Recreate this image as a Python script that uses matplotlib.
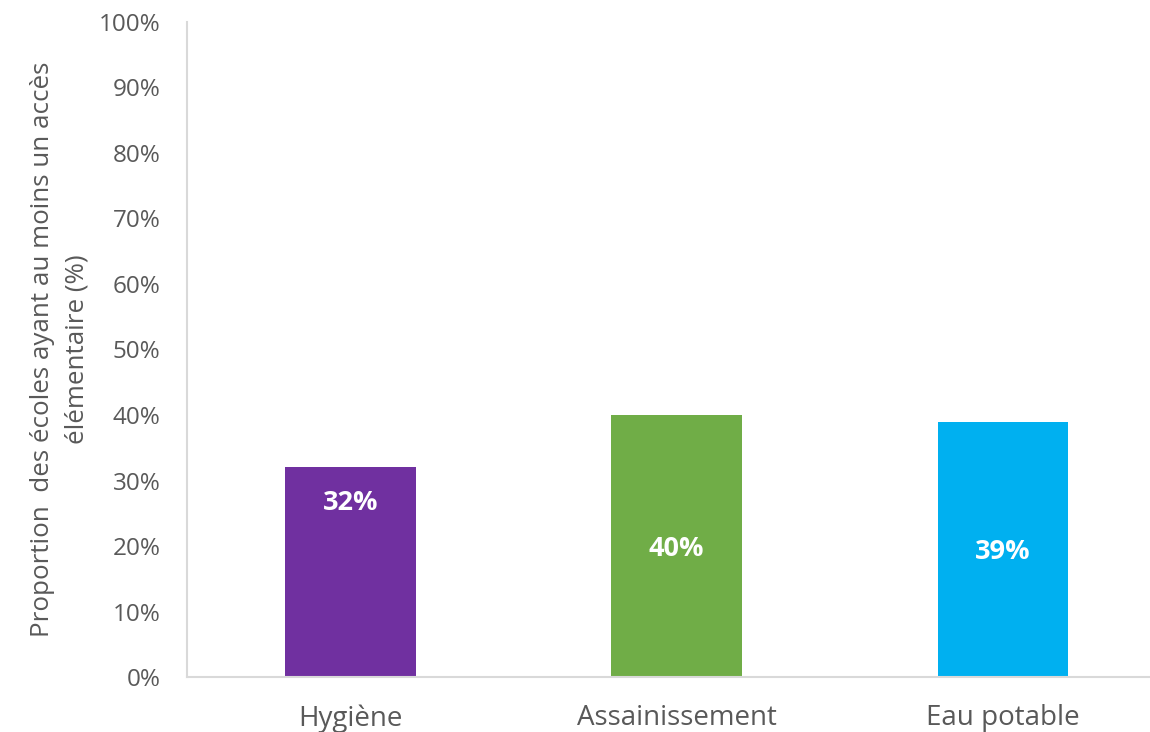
import matplotlib
matplotlib.use("Agg")
import matplotlib.pyplot as plt
from matplotlib.ticker import PercentFormatter

plt.rcParams['font.family'] = ['Open Sans', 'DejaVu Sans']

categories = ['Hygiène', 'Assainissement', 'Eau potable']
values = [32, 40, 39]
bar_colors = ['#7030A0', '#70AD47', '#00B0F0']
label_pos = ['inside_end', 'center', 'center']  # comme dans Excel

fig = plt.figure(figsize=(11.5, 7.32), dpi=100)
ax = fig.add_axes([0.1626, 0.0751, 0.8374, 0.8949])

x = range(len(categories))
bars = ax.bar(x, values, width=0.4, color=bar_colors)

for b, v, pos in zip(bars, values, label_pos):
    y = v - 5 if pos == 'inside_end' else v / 2
    ax.text(b.get_x() + b.get_width() / 2, y, f'{v}%', ha='center', va='center_baseline',
            color='white', fontsize=19.5, fontweight='bold')

ax.set_ylim(0, 100)
ax.set_xlim(-0.5, 2.45)
ax.set_yticks(range(0, 101, 10))
ax.yaxis.set_major_formatter(PercentFormatter(decimals=0))
ax.set_xticks(list(x))
ax.set_xticklabels(categories)

ax.tick_params(axis='y', length=0, pad=19, labelsize=17.5, labelcolor='#595959')
ax.tick_params(axis='x', length=0, pad=19.5, labelsize=20, labelcolor='#595959')

for s in ['top', 'right']:
    ax.spines[s].set_visible(False)
for s in ['left', 'bottom']:
    ax.spines[s].set_color('#D9D9D9')
    ax.spines[s].set_linewidth(1.5)

ax.set_ylabel('Proportion  des écoles ayant au moins un accès\nélémentaire (%)',
              fontsize=18.7, color='#595959', labelpad=7, linespacing=1.5)

fig.savefig('out.png', dpi=100)
